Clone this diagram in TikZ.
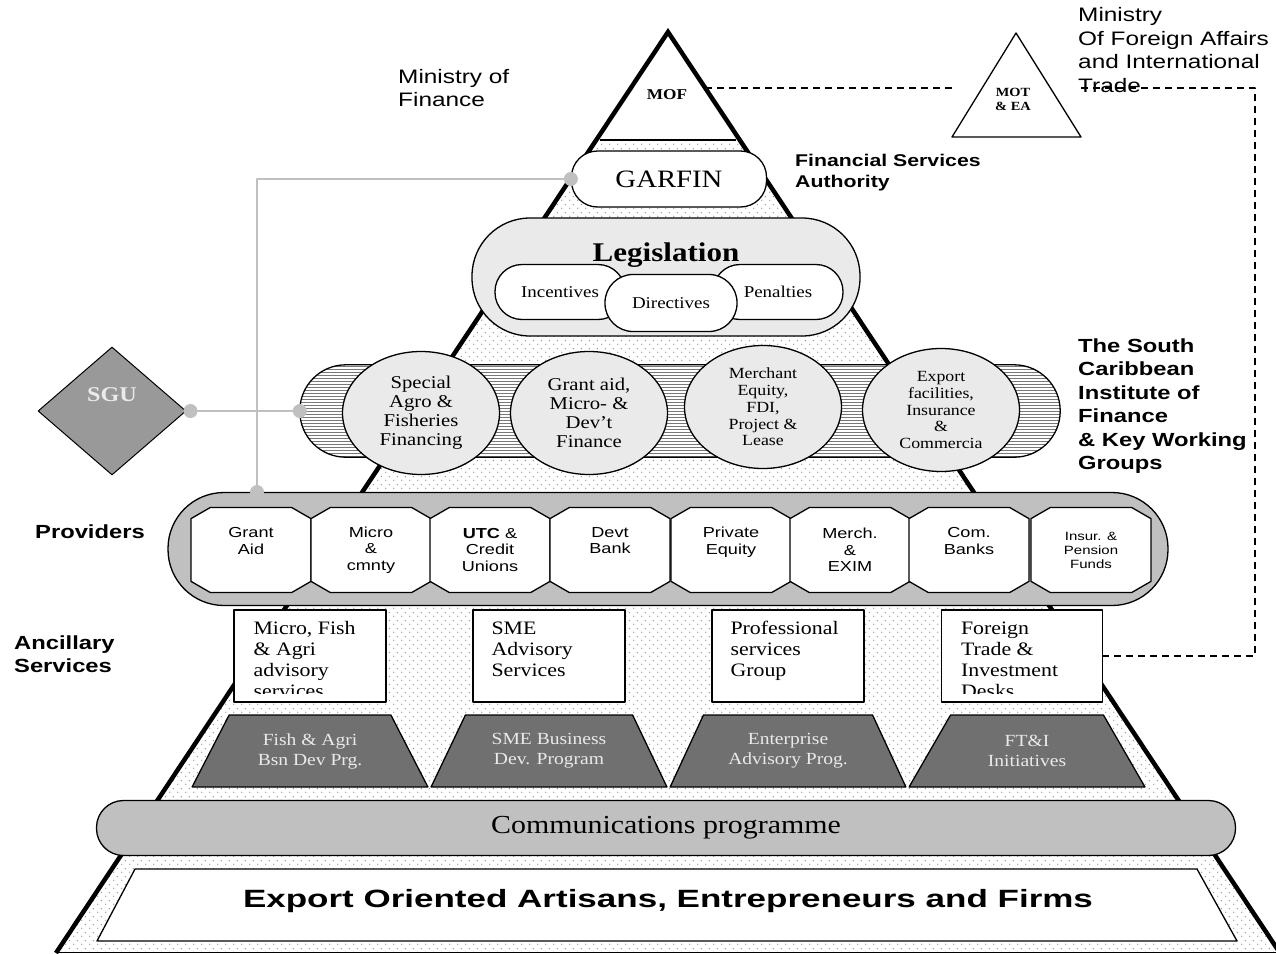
\documentclass[tikz,border=0pt]{standalone}
\usepackage{fontspec}
\setmainfont{Liberation Serif}[FakeStretch=1.15]
\newfontfamily\arialf{Liberation Sans}[FakeStretch=1.25]
\newfontfamily\widef{Liberation Sans}[FakeStretch=1.4]
\usepackage{xcolor}
\usepackage{tikz}
\usetikzlibrary{shapes.geometric,shapes.misc,patterns,patterns.meta}

\definecolor{bandgray}{RGB}{192,192,192}
\definecolor{palegray}{RGB}{234,234,234}
\definecolor{progfill}{RGB}{112,112,112}
\definecolor{sgufill}{RGB}{153,153,153}
\definecolor{sandgray}{RGB}{140,140,140}
\definecolor{rulegray}{RGB}{120,120,120}

% stippled fill of the pyramid
\tikzdeclarepattern{
  name=sand,
  type=uncolored,
  bounding box={(0pt,0pt) and (8pt,8pt)},
  tile size={(8pt,8pt)},
  code={
    \fill (2pt,2pt) circle (0.8pt);
    \fill (6pt,6pt) circle (0.8pt);
  }
}

\begin{document}
\begin{tikzpicture}[x=1pt,y=-1pt,line join=round]
  \tikzstyle{every node}=[inner sep=0pt]
  \tikzstyle{pill}=[draw,line width=1.3pt]
  \tikzstyle{lozenge}=[ellipse,draw,line width=1.3pt,fill=palegray,minimum width=157pt,minimum height=123pt,align=center]
  \tikzstyle{provider}=[chamfered rectangle,chamfered rectangle angle=60,chamfered rectangle xsep=14pt,draw,line width=1.3pt,fill=white,minimum width=120pt,minimum height=85pt,align=center,font=\arialf\fontsize{14.5}{16.5}\selectfont]
  \tikzstyle{advisory}=[draw,line width=1.3pt,fill=white,minimum width=152pt,minimum height=92pt]
  \tikzstyle{advtext}=[anchor=north west,align=left,font=\fontsize{19}{21}\selectfont]
  \tikzstyle{prog}=[trapezium,trapezium left angle=56,trapezium right angle=56,trapezium stretches=true,draw,line width=1.3pt,fill=progfill,minimum width=236pt,minimum height=72pt,text=palegray,align=center,font=\fontsize{17}{20}\selectfont]
  \tikzstyle{caption}=[anchor=west,align=left,font=\arialf\fontsize{19.5}{23.5}\selectfont]
  \tikzstyle{heading}=[anchor=west,align=left,font=\arialf\bfseries\fontsize{19}{23.4}\selectfont]
  \tikzstyle{link}=[draw=bandgray,line width=2pt]
  \tikzstyle{knob}=[circle,fill=bandgray,minimum size=14pt]
  \tikzstyle{dashed line}=[line width=1.4pt,dash pattern=on 7pt off 5pt]

  \useasboundingbox (0,0) rectangle (1276,953);

  % Pyramid body
  \fill[pattern=sand,pattern color=sandgray] (668,32) -- (1280,953) -- (56,953) -- cycle;
  \fill[white] (668,32) -- (740,140) -- (596,140) -- cycle;
  \draw[line width=1.4pt] (600,140) -- (736,140);
  \draw[line width=4.5pt,line join=miter] (56,953) -- (668,32) -- (1280,953);
  \draw[line width=1pt] (56,952) -- (1280,952);
  \node[font=\bfseries\fontsize{15}{16}\selectfont] (mof) at (667,95) {MOF};

  % Link to foreign affairs
  \coordinate (mofR) at (705,88);
  \coordinate (dcorner) at (1255,88);
  \draw[fill=white,line width=1.3pt] (1016,33) -- (1081,137) -- (952,137) -- cycle;
  \node[align=center,font=\bfseries\fontsize{12.5}{14}\selectfont] (mot) at (1013,99) {MOT\\\& EA};

  % GARFIN and legislation
  \node[pill,fill=white,minimum width=195pt,minimum height=56pt,rounded corners=26pt,font=\fontsize{25}{28}\selectfont] (garfin) at (669,179) {GARFIN};
  \node[pill,fill=palegray,minimum width=388pt,minimum height=118pt,rounded corners=58pt] (legis) at (666,277) {};
  \node[font=\bfseries\fontsize{27}{30}\selectfont] (legtitle) at (666,255) {Legislation};
  \node[pill,fill=white,minimum width=130pt,minimum height=55pt,rounded corners=27pt,font=\fontsize{16.5}{18}\selectfont] (incent) at (560,292) {Incentives};
  \node[pill,fill=white,minimum width=130pt,minimum height=55pt,rounded corners=27pt,font=\fontsize{16.5}{18}\selectfont] (penal) at (778,292) {Penalties};
  \node[pill,fill=white,minimum width=132pt,minimum height=57pt,rounded corners=28pt,font=\fontsize{16.5}{18}\selectfont] (direct) at (671,303) {Directives};

  % Finance windows: ruled band behind four ovals
  \node[fill=white,minimum width=760pt,minimum height=92pt,rounded corners=46pt] (scifband) at (680,411) {};
  \begin{scope}
    \clip[rounded corners=46pt] (scifband.north west) rectangle (scifband.south east);
    \foreach \yy in {0,...,30}
      \draw[rulegray,line width=0.9pt] (300,366.5+3*\yy) -- (1060,366.5+3*\yy);
  \end{scope}
  \draw[pill,rounded corners=46pt] (scifband.north west) rectangle (scifband.south east);
  \node[lozenge,font=\fontsize{18}{19}\selectfont] (agro) at (421,413) {Special\\Agro \&\\Fisheries\\Financing};
  \node[lozenge,font=\fontsize{18}{19}\selectfont] (grantaid) at (589,413) {Grant aid,\\Micro- \&\\Dev't\\Finance};
  \node[lozenge,font=\fontsize{15.5}{16.7}\selectfont] (merchant) at (763,407) {Merchant\\Equity,\\FDI,\\Project \&\\Lease};
  \node[lozenge,font=\fontsize{15.5}{16.7}\selectfont] (export) at (941,410) {Export\\facilities,\\Insurance\\\&\\Commercia};

  % SGU
  \node[diamond,draw,line width=1pt,fill=sgufill,minimum width=148pt,minimum height=128pt] (sgu) at (112,411) {};
  \node[text=palegray,font=\bfseries\fontsize{21}{22}\selectfont] (sgulbl) at (112,395) {SGU};

  % Providers
  \node[pill,fill=bandgray,minimum width=1000pt,minimum height=113pt,rounded corners=56pt] (provband) at (668,549) {};
  \node[provider] (grant) at (251,550) {Grant\\Aid\\[2pt]};
  \node[provider] (micro) at (371,550) {Micro\\\&\\cmnty};
  \node[provider] (utc) at (490,550) {\textbf{UTC} \&\\Credit\\Unions};
  \node[provider] (devt) at (610,550) {Devt\\Bank\\[2pt]};
  \node[provider] (equity) at (731,550) {Private\\Equity\\[2pt]};
  \node[provider] (exim) at (850,550) {Merch.\\\&\\EXIM};
  \node[provider] (banks) at (969,550) {Com.\\Banks\\[2pt]};
  \node[provider,font=\arialf\fontsize{12}{14}\selectfont] (pension) at (1091,550) {Insur. \&\\Pension\\Funds};

  % Ancillary services
  \node[advisory] (fishadv) at (310,656) {};
  \node[advisory] (smeadv) at (549,656) {};
  \node[advisory] (profgrp) at (788,656) {};
  \node[advisory,minimum width=161pt] (fordesk) at (1022,656) {};
  \begin{scope}
    \clip (fishadv.north west) rectangle ([yshift=9pt]fishadv.south east);
    \node[advtext] (fishtxt) at ([xshift=20pt,yshift=-12pt]fishadv.north west) {Micro, Fish\\\& Agri\\advisory\\services};
  \end{scope}
  \node[advtext] (smetxt) at ([xshift=19pt,yshift=-12pt]smeadv.north west) {SME\\Advisory\\Services};
  \node[advtext] (proftxt) at ([xshift=19pt,yshift=-12pt]profgrp.north west) {Professional\\services\\Group};
  \begin{scope}
    \clip (fordesk.north west) rectangle ([yshift=9pt]fordesk.south east);
    \node[advtext] (fortxt) at ([xshift=20pt,yshift=-12pt]fordesk.north west) {Foreign\\Trade \&\\Investment\\Desks};
  \end{scope}

  % Development programmes
  \node[prog] (fishprg) at (310,751) {Fish \& Agri\\Bsn Dev Prg.};
  \node[prog] (smeprg) at (549,751) {SME Business\\Dev. Program};
  \node[prog] (entprg) at (788,751) {Enterprise\\Advisory Prog.};
  \node[prog] (ftiprg) at (1027,751) {FT\&I\\Initiatives};

  % Base of the pyramid
  \node[pill,fill=bandgray,minimum width=1139pt,minimum height=55pt,rounded corners=27pt,font=\fontsize{26}{28}\selectfont] (comms) at (666,828) {Communications programme};
  \draw[fill=white,line width=1.3pt] (135,869) -- (1197,869) -- (1237,941) -- (97,941) -- cycle;
  \node[font=\widef\bfseries\fontsize{25}{28}\selectfont] (firms) at (668,901) {Export Oriented Artisans, Entrepreneurs and Firms};

  % Grey connectors
  \coordinate (gdrop) at (257,492);
  \draw[link] (garfin.west) -| (gdrop);
  \node[knob] (gk1) at (garfin.west) {};
  \node[knob] (gk2) at (gdrop) {};
  \draw[link] (sgu.east) -- (scifband.west);
  \node[knob] (sk1) at ([xshift=4pt]sgu.east) {};
  \node[knob] (sk2) at (scifband.west) {};

  % Dashed reporting line
  \draw[dashed line] (mofR) -- (952,88);
  \draw[dashed line] (1081,88) -- (dcorner) |- (fordesk.east);

  % Side captions
  \node[caption] (mofname) at (398,88) {Ministry of\\Finance};
  \node[caption] (mofaname) at (1078,50) {Ministry\\Of Foreign Affairs\\and International\\Trade};
  \node[heading,font=\arialf\bfseries\fontsize{17}{21}\selectfont] (fsa) at (795,173) {Financial Services\\Authority};
  \node[heading] (scif) at (1078,406) {The South\\Caribbean\\Institute of\\Finance\\\& Key Working\\Groups};
  \node[heading] (provlbl) at (35,532) {Providers};
  \node[heading] (anclbl) at (14,654) {Ancillary\\Services};
\end{tikzpicture}
\end{document}
